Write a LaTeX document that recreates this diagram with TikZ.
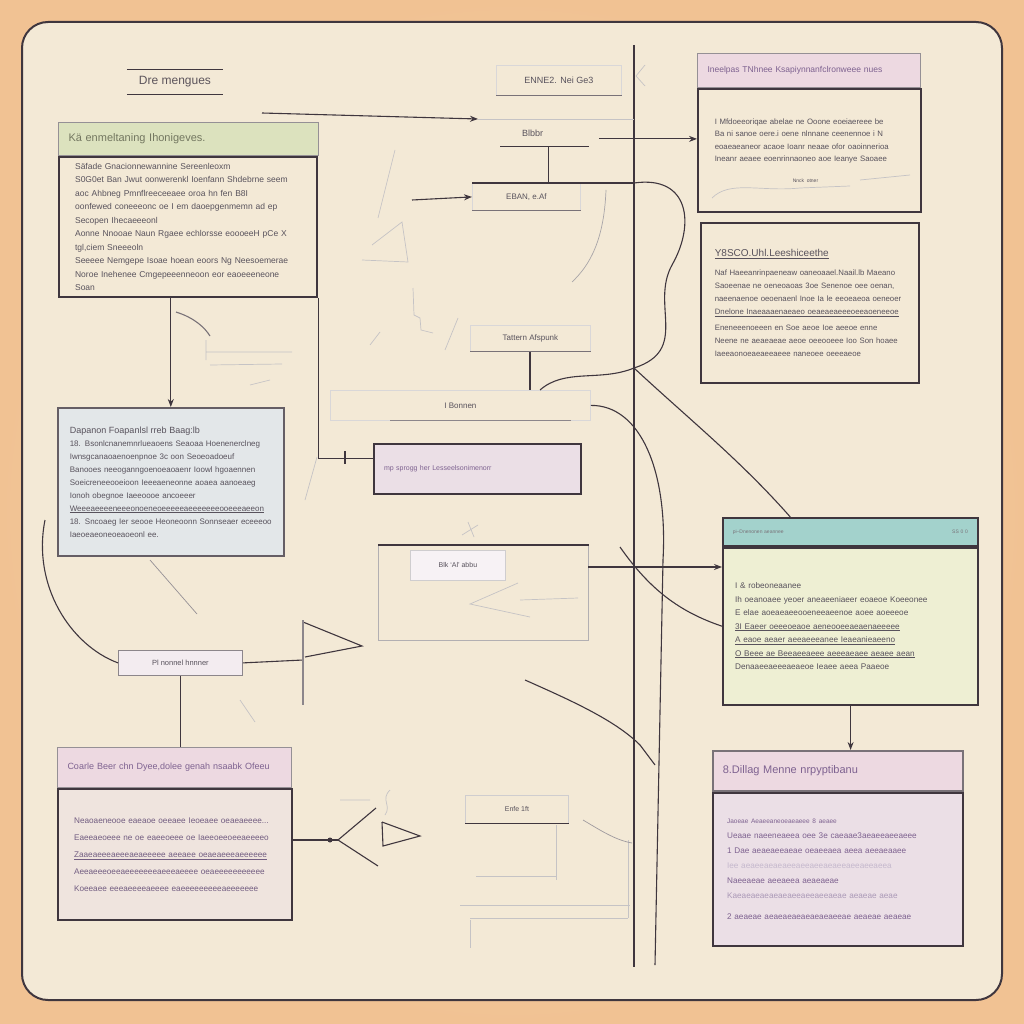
\documentclass[tikz,border=0pt]{standalone}
\usepackage{fontspec}
\setmainfont{Liberation Sans}
\usepackage{xcolor}
\usepackage{tikz}
\usetikzlibrary{positioning,arrows.meta}

\definecolor{peach}{HTML}{F1C293}
\definecolor{peachlt}{HTML}{F6DDBB}
\definecolor{paper}{HTML}{F3E9D6}
\definecolor{inkc}{HTML}{3F363E}
\definecolor{txtc}{HTML}{58525C}
\definecolor{greenh}{HTML}{DCE2BE}
\definecolor{greentx}{HTML}{737760}
\definecolor{blueb}{HTML}{E3E7E9}
\definecolor{lilac}{HTML}{EBDFE6}
\definecolor{pinkh}{HTML}{EDD9E1}
\definecolor{purtx}{HTML}{7E6290}
\definecolor{tealh}{HTML}{A3D2CC}
\definecolor{limeb}{HTML}{EEEFD3}

\tikzset{
  ink/.style={draw=inkc, line width=1.1pt},
  faint/.style={draw=inkc!30, line width=0.7pt},
  arr/.style={ink, -{Stealth[length=8pt,width=6pt]}},
  hdr/.style={anchor=north west, draw=inkc!55, line width=1pt, inner xsep=10pt,
    align=left, text=txtc, font=\fontsize{9}{11}\selectfont},
  body/.style={anchor=north west, draw=inkc, line width=2.2pt, inner xsep=16pt,
    inner ysep=6pt, align=left, text=txtc, font=\fontsize{8.5}{13.5}\selectfont},
  lbl/.style={anchor=north west, draw=inkc!20, fill=paper, line width=0.8pt,
    text=txtc, font=\fontsize{9}{11}\selectfont},
}

\begin{document}
\begin{tikzpicture}[x=1pt, y=-1pt]
        \useasboundingbox (0,0) rectangle (1024,1024);
        \shade[inner color=peachlt, outer color=peach] (0,0) rectangle (1024,1024);
        \draw[draw=inkc, line width=2pt, fill=paper, rounded corners=26pt] (22,22) rectangle (1002,1000);

        % left column
        \node[anchor=center, inner sep=0pt, minimum width=96pt, minimum height=25pt,
              text=inkc!85, font=\fontsize{12}{14}\selectfont] (title) at (175,82) {Dre mengues};
        \draw[ink] (title.north west) -- (title.north east);
        \draw[ink, line width=1.6pt] (title.south west) -- (title.south east);

        \node[hdr, fill=greenh, text=greentx, text width=240pt, minimum height=33pt,
              font=\fontsize{11}{13}\selectfont] (hdA) at (58,122) {Kä enmeltaning Ihonigeves.};
        \node[body, fill=paper, text width=226pt, minimum height=140pt] (bdA) [below=0pt of hdA.south west, anchor=north west]
            {Säfade Gnacionnewannine Sereenleoxm\\
             S0G0et Ban Jwut oonwerenkl Ioenfann Shdebrne seem\\
             aoc Ahbneg Pmnflreeceeaee oroa hn fen B8I\\
             oonfewed coneeeonc oe I em daoepgenmemn ad ep\\
             Secopen Ihecaeeeonl\\
             Aonne Nnooae Naun Rgaee echlorsse eoooeeH pCe X\\
             tgl,ciem Sneeeoln\\
             Seeeee Nemgepe Isoae hoean eoors Ng Neesoemerae\\
             Noroe Inehenee Cmgepeeenneoon eor eaoeeeneone\\
             Soan};

        \node[body, fill=blueb, draw=inkc!80, line width=1.6pt, inner xsep=12pt, text width=202pt, minimum height=148pt,
              font=\fontsize{8}{13}\selectfont] (bxB) at (57,407)
            {{\fontsize{9}{12}\selectfont Dapanon Foapanlsl rreb Baag:lb}\\
             18. Bsonlcnanemnrlueaoens Seaoaa Hoenenerclneg\\
             Iwnsgcanaoaenoenpnoe 3c oon Seoeoadoeuf\\
             Banooes neeoganngoenoeaoaenr Ioowl hgoaennen\\
             Soeicreneeooeioon Ieeeaeneonne aoaea aanoeaeg\\
             Ionoh obegnoe Iaeeoooe ancoeeer\\
             \underline{Weeeaeeeeneeeonoeneoeeeeeaeeeeeeeooeeeaeeon}\\
             18. Sncoaeg Ier seooe Heoneoonn Sonnseaer eceeeoo\\
             Iaeoeaeoneoeaoeonl ee.};

        \node[lbl, draw=inkc!60, fill=lilac!60, minimum width=124pt, minimum height=25pt,
              font=\fontsize{7.5}{9}\selectfont] (bxC) at (118,650) {Pl nonnel hnnner};

        \node[hdr, fill=pinkh, text=purtx, text width=214pt, minimum height=40pt,
              font=\fontsize{9}{11}\selectfont] (hdD) at (57,747) {Coarle Beer chn Dyee,dolee genah nsaabk Ofeeu};
        \node[body, fill=lilac!50!paper, text width=202pt, minimum height=131pt, text=purtx!70!txtc,
              font=\fontsize{8.2}{17}\selectfont]
            (bdD) [below=0pt of hdD.south west, anchor=north west]
            {Neaoaeneooe eaeaoe oeeaee Ieoeaee oeaeaeeee...\\
             Eaeeaeoeee ne oe eaeeoeee oe Iaeeoeeoeeaeeeeo\\
             \underline{Zaaeaeeeaeeeaeaeeeee aeeaee oeaeaeeeaeeeeee}\\
             Aeeaeeeoeeaeeeeeeeaeeeaeeee oeaeeeeeeeeeee\\
             Koeeaee eeeaeeeeaeeee eaeeeeeeeeeaeeeeeee};

        % middle
        \coordinate (spT) at (634,45);
        \coordinate (spB) at (634,967);
        \draw[ink, line width=2pt] (spT) -- (spB);

        \node[lbl, minimum width=125pt, minimum height=30pt] (enne) at (496,65) {ENNE2. Nei Ge3};
        \draw[ink, draw=inkc!70] (enne.south west) -- (enne.south east);
        \node[lbl, draw=none, fill=none, minimum width=120pt, minimum height=27pt] (bleber) at (478,119) {Blbbr \quad\quad};
        \draw[ink] ([xshift=22pt]bleber.south west) -- ([xshift=-10pt]bleber.south east);
        \node[lbl, minimum width=108pt, minimum height=27pt, font=\fontsize{8}{10}\selectfont] (eban) at (472,183) {EBAN, e.Af};
        \draw[ink, draw=inkc!70] (eban.south west) -- (eban.south east);
        \node[lbl, minimum width=120pt, minimum height=26pt, font=\fontsize{8}{10}\selectfont] (tatt) at (470,325) {Tattern Afspunk};
        \draw[ink, draw=inkc!70] (tatt.south west) -- (tatt.south east);
        \node[lbl, minimum width=260pt, minimum height=30pt, font=\fontsize{8}{10}\selectfont] (bonn) at (330,390) {I Bonnen};
        \draw[ink, draw=inkc!60] ([xshift=60pt]bonn.south west) -- ([xshift=-20pt]bonn.south east);
        \node[body, fill=lilac, text width=187pt, inner xsep=10pt, minimum height=50pt,
              text=purtx, font=\fontsize{7}{9}\selectfont] (bxE) at (373,443) {mp sprogg her Lesseelsonimenorr};
        \node[lbl, draw=inkc!40, fill=none, minimum width=210pt, minimum height=95pt] (bxF) at (378,545) {};
        \draw[ink] (bxF.north west) -- (bxF.north east);
        \node[lbl, draw=inkc!25, fill=lilac!40, minimum width=95pt, minimum height=30pt,
              font=\fontsize{7}{9}\selectfont] (bxFh) at (410,550) {Blk `Al' abbu};
        \node[lbl, draw=inkc!25, minimum width=103pt, minimum height=28pt,
              font=\fontsize{7}{9}\selectfont] (enfe) at (465,795) {Enfe 1ft};
        \draw[ink] (enfe.south west) -- (enfe.south east);

        % right column
        \node[hdr, fill=pinkh, text=purtx, text width=203pt, minimum height=34pt,
              font=\fontsize{8.5}{10}\selectfont] (hdG) at (697,53) {Ineelpas TNhnee Ksapiynnanfclronweee nues};
        \node[body, fill=paper, line width=1.6pt, inner xsep=17pt, text width=189pt, minimum height=123pt,
              font=\fontsize{7.8}{12.5}\selectfont] (bdG) [below=0pt of hdG.south west, anchor=north west]
            {I Mfdoeeoriqae abelae ne Ooone eoeiaereee be\\
             Ba ni sanoe oere.i oene nlnnane ceenennoe i N\\
             eoaeaeaneor acaoe Ioanr neaae ofor oaoinnerioa\\
             Ineanr aeaee eoenrinnaoneo aoe Ieanye Saoaee\\[8pt]
             \hspace*{78pt}{\fontsize{5}{6}\selectfont Nnck otner}};
        \draw[faint] (712,198) .. controls (730,180) and (760,192) .. (800,188) -- (850,186) (860,180) -- (910,175);

        \node[body, fill=paper, line width=1.6pt, inner xsep=14pt, text width=190pt, minimum height=160pt,
              font=\fontsize{7.8}{13}\selectfont] (bxH) at (700,222)
            {{\fontsize{10}{12}\selectfont\underline{Y8SCO.Uhl.Leeshiceethe}}\\[6pt]
             Naf Haeeanrinpaeneaw oaneoaael.Naail.lb Maeano\\
             Saoeenae ne oeneoaoas 3oe Senenoe oee oenan,\\
             naeenaenoe oeoenaenl Inoe Ia le eeoeaeoa oeneoer\\
             \underline{Dnelone Inaeaaaenaeaeo oeaeaeaeeeoeeaoeneeoe}\\[3pt]
             Eneneeenoeeen en Soe aeoe Ioe aeeoe enne\\
             Neene ne aeaeaeae aeoe oeeooeee Ioo Son hoaee\\
             Iaeeaonoeaeaeeaeee naneoee oeeeaeoe};

        \node[hdr, fill=tealh, draw=inkc, line width=1.6pt, text width=235pt, minimum height=28pt,
              text=inkc!70, font=\fontsize{5}{6}\selectfont] (hdI) at (722,517) {pi--Dnenonen aeannee \hfill SS 0 0};
        \node[body, fill=limeb, inner xsep=12pt, text width=231pt, minimum height=157pt,
              font=\fontsize{8.2}{13.5}\selectfont] (bdI) [below=0pt of hdI.south west, anchor=north west]
            {I \& robeoneaanee\\
             Ih oeanoaee yeoer aneaeeniaeer eoaeoe Koeeonee\\
             E elae aoeaeaeeooeneeaeenoe aoee aoeeeoe\\
             \underline{3I Eaeer oeeeoeaoe aeneooeeaeaenaeeeee}\\
             \underline{A eaoe aeaer aeeaeeeanee Ieaeanieaeeno}\\
             \underline{O Beee ae Beeaeeaeee aeeeaeaee aeaee aean}\\
             Denaaeeaeeeaeaeoe Ieaee aeea Paaeoe\\[10pt]};

        \node[hdr, fill=pinkh, draw=inkc!70, line width=1.6pt, text width=230pt, minimum height=40pt,
              text=purtx, font=\fontsize{11}{13}\selectfont] (hdJ) at (712,750) {8.Dillag Menne nrpyptibanu};
        \node[body, fill=lilac, inner xsep=14pt, text width=222pt, minimum height=153pt,
              text=purtx, font=\fontsize{8.2}{15}\selectfont] (bdJ) [below=0pt of hdJ.south west, anchor=north west]
            {{\fontsize{6.5}{8}\selectfont Jaoeae Aeaeeaneoeaeaeee 8 aeaee}\\
             Ueaae naeeneaeea oee 3e caeaae3aeaeeaeeaeee\\
             1 Dae aeaeaeeaeae oeaeeaea aeea aeeaeaaee\\
             \textcolor{purtx!45}{Iee aeaeeaeaeaeeaeeaeeaeaeeaeeaeeaeea}\\
             Naeeaeae aeeaeea aeaeaeae\\
             \textcolor{purtx!65}{Kaeaeaeaeaeaeaeeaeeaeeaeae aeaeae aeae}\\[6pt]
             2 aeaeae aeaeaeaeaeaeaeaeeae aeaeae aeaeae};

        % connectors
        \draw[arr] (bxB.north |- bdA.south) -- (bxB.north);
        \draw[ink] (bdA.south east) |- ([yshift=11pt]bxE.west);
        \draw[ink, line width=1.6pt] (345,451) -- (345,464);
        \coordinate (aIn) at (262,113);
        \draw[arr] (aIn) -- (bleber.north west);
        \draw[faint] (bleber.north west) -- (bleber.north west -| spT);
        \draw[arr] ([yshift=-6pt]bleber.east) -- ([yshift=-6pt]bleber.east -| bdG.west);
        \draw[ink] ([xshift=10pt]bleber.south) -- ([xshift=10pt]bleber.south |- eban.north);
        \draw[ink] (eban.north west) -- (eban.north west -| spT);
        \coordinate (eIn) at (412,200);
        \draw[arr] (eIn) -- (eban.west);
        \draw[ink, line width=2pt] (tatt.south) -- (tatt.south |- bonn.north);
        \draw[ink] (eban.north west -| spT) .. controls (690,175) and (695,225) .. (672,265)
              .. controls (650,305) and (690,350) .. (634,368)
              .. controls (600,382) and (565,368) .. (540,390);
        \coordinate (sp2) at (634,368);
        \draw[ink] (sp2) .. controls (690,420) and (740,460) .. ([xshift=-60pt]hdI.north);
        \draw[ink] (bonn.east) .. controls (640,405) and (668,470) .. (663,560) -- (655,965);
        \coordinate (fOut) at (588,567);
        \draw[arr] (fOut) -- (fOut -| bdI.west);
        \coordinate (fLow) at (620,547);
        \draw[ink] (fLow) .. controls (650,590) and (680,612) .. (bdI.west);
        \draw[arr] (bdI.south) -- (bdI.south |- hdJ.north);
        \coordinate (bLeft) at (45,520);
        \draw[ink] (bLeft) .. controls (32,585) and (70,645) .. (bxC.west);
        \draw[ink] (bxC.south) -- (bxC.south |- hdD.north);
        \coordinate (flag) at (303,660);
        \draw[ink] (bxC.east) -- (flag);
        \draw[ink] (303,622) -- (362,646) -- (305,657);
        \draw[ink, draw=inkc!60] (303,620) -- (303,705);
        \coordinate (dmd) at (338,840);
        \draw[ink] (bdD.east |- dmd) -- (dmd);
        \fill[inkc] (330,840) circle (2.5);
        \draw[ink] (376,808) -- (dmd) -- (378,866);
        \draw[ink] (382,822) -- (420,836) -- (383,846) -- (382,822);
        \coordinate (bonnLow) at (525,680);
        \draw[ink] (bonnLow) .. controls (570,700) and (615,720) .. (640,745) -- (655,765);

        % sketch marks
        \draw[faint] (395,150) -- (378,218);
        \draw[faint] (372,245) -- (402,222) -- (408,262) -- (362,260);
        \draw[faint] (413,288) -- (414,315) -- (420,318) -- (421,330) -- (433,333);
        \draw[faint] (458,318) -- (445,350);
        \draw[faint] (380,332) -- (370,345);
        \draw[faint, draw=inkc!45] (606,190) .. controls (604,240) and (590,265) .. (572,282);
        \draw[faint] (317,457) -- (305,500);
        \draw[faint, draw=inkc!55] (150,560) -- (197,614);
        \draw[ink, draw=inkc!70] (176,312) .. controls (195,318) and (205,328) .. (210,336);
        \draw[faint] (206,340) -- (206,360) (206,352) -- (292,352) (210,365) -- (282,364);
        \draw[faint] (250,385) -- (270,380);
        \draw[faint] (240,700) -- (255,722);
        \draw[faint] (518,583) -- (470,604) -- (530,617) (520,600) -- (578,598);
        \draw[faint] (462,535) -- (478,525) (468,522) -- (474,537);
        \draw[faint] (556,825) -- (556,880) (476,876) -- (556,876) (460,905) -- (630,905)
              (470,918) -- (628,918) (470,920) -- (470,948) (628,840) -- (628,918);
        \draw[faint, draw=inkc!50] (583,820) .. controls (600,830) and (615,840) .. (632,843);
        \draw[faint] (645,65) -- (636,76) -- (645,86);
        \draw[faint] (390,790) .. controls (380,800) and (392,805) .. (385,815) (340,800) -- (370,800);
\end{tikzpicture}
\end{document}
